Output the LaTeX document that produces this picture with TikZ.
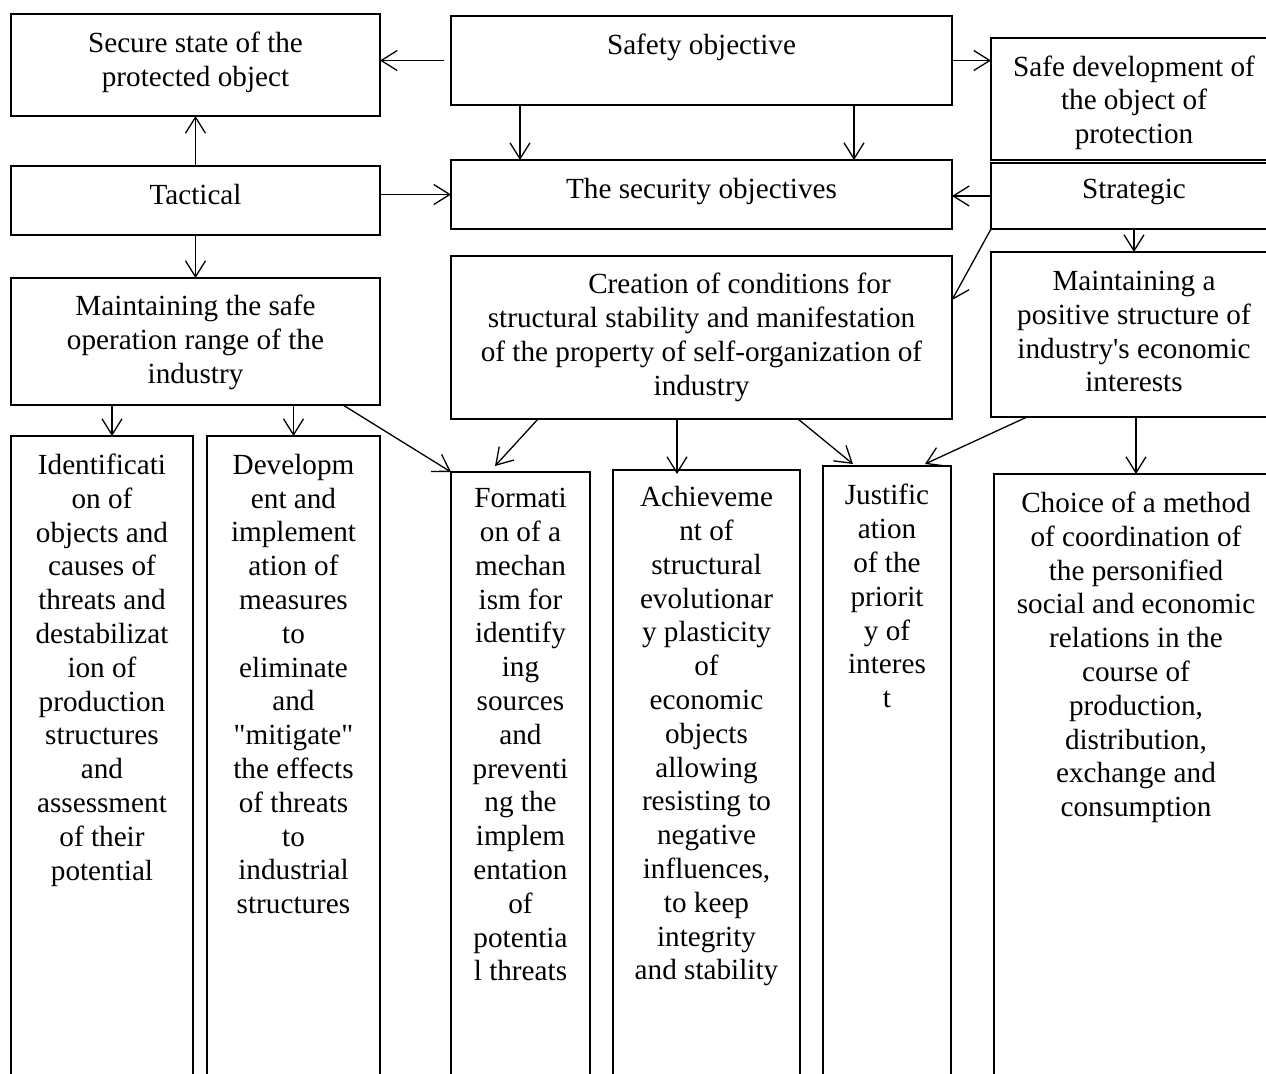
\documentclass[tikz,border=0pt]{standalone}
\usepackage{fontspec}
\setmainfont{Liberation Serif}
\usetikzlibrary{arrows.meta,calc}
\begin{document}
\begin{tikzpicture}[x=0.5pt,y=-0.5pt,
  box/.style={draw, line width=1.2pt, inner sep=0pt, outer sep=0pt},
  openbox/.style={inner sep=0pt, outer sep=0pt, minimum height=330pt, anchor=north},
  boxline/.style={line width=1.2pt},
  txt/.style={inner sep=0pt, outer sep=0pt, anchor=north, align=center,
    font=\fontsize{14.6pt}{16.9pt}\selectfont, execute at begin node=\strut},
  arr/.style={line width=0.65pt, -{Straight Barb[length=8pt,width=10pt,line width=0.65pt]}}]
\useasboundingbox (0,0) rectangle (1266,1073);

% framed boxes
\node[box, minimum width=184.5pt, minimum height=51pt]   (secure)    at (195.5,65) {};
\node[box, minimum width=250.5pt, minimum height=44.5pt] (safety)    at (701.5,60.5) {};
\node[box, minimum width=143pt,   minimum height=61pt]   (safedev)   at (1134,99) {};
\node[box, minimum width=184.5pt, minimum height=34.5pt] (tactical)  at (195.5,200.5) {};
\node[box, minimum width=250.5pt, minimum height=34.5pt] (security)  at (701.5,194.5) {};
\node[box, minimum width=143pt,   minimum height=33pt]   (strategic) at (1134,196) {};
\node[box, minimum width=184.5pt, minimum height=63.5pt] (msafe)     at (195.5,341.5) {};
\node[box, minimum width=250.5pt, minimum height=81.5pt] (creation)  at (701.5,337.5) {};
\node[box, minimum width=143pt,   minimum height=82.5pt] (mpos)      at (1134,334.5) {};

% open-bottom columns
\node[openbox, minimum width=91pt]   (ident)   at (102,436) {};
\node[openbox, minimum width=86.5pt] (devel)   at (293.5,436) {};
\node[openbox, minimum width=69.5pt] (form)    at (520.5,472) {};
\node[openbox, minimum width=93.5pt] (achieve) at (706.5,470) {};
\node[openbox, minimum width=64pt]   (justif)  at (887,466) {};
\node[openbox, minimum width=142pt]  (choice)  at (1136,474) {};
\foreach \n in {ident,devel,form,achieve,justif,choice}{
  \draw[boxline] (\n.south west) -- (\n.north west) -- (\n.north east) -- (\n.south east);
}

% texts
\node[txt] (secure-t)    at ([yshift=-9.2pt]secure.north)    {Secure state of the\\protected object};
\node[txt] (safety-t)    at ([yshift=-7.3pt]safety.north)    {Safety objective};
\node[txt] (safedev-t)   at ([yshift=-8.8pt]safedev.north)   {Safe development of\\the object of\\protection};
\node[txt] (tactical-t)  at ([yshift=-7.3pt]tactical.north)  {Tactical};
\node[txt] (security-t)  at ([yshift=-7.6pt]security.north)  {The security objectives};
\node[txt] (strategic-t) at ([yshift=-5.7pt]strategic.north) {Strategic};
\node[txt] (msafe-t)     at ([yshift=-8.6pt]msafe.north)     {Maintaining the safe\\operation range of the\\industry};
\node[txt] (creation-t)  at ([yshift=-8.6pt]creation.north)  {\hspace*{38pt}Creation of conditions for\\structural stability and manifestation\\of the property of self-organization of\\industry};
\node[txt] (mpos-t)      at ([yshift=-9.6pt]mpos.north)      {Maintaining a\\positive structure of\\industry\textquotesingle s economic\\interests};
\node[txt] (ident-t)     at ([yshift=-9.0pt]ident.north)     {Identificati\\on of\\objects and\\causes of\\threats and\\destabilizat\\ion of\\production\\structures\\and\\assessment\\of their\\potential};
\node[txt] (devel-t)     at ([yshift=-9.0pt]devel.north)     {Developm\\ent and\\implement\\ation of\\measures\\to\\eliminate\\and\\\textquotedbl mitigate\textquotedbl\\the effects\\of threats\\to\\industrial\\structures};
\node[txt] (form-t)      at ([yshift=-8.2pt]form.north)      {Formati\\on of a\\mechan\\ism for\\identify\\ing\\sources\\and\\preventi\\ng the\\implem\\entation\\of\\potentia\\l threats};
\node[txt] (achieve-t)   at ([yshift=-8.2pt]achieve.north)   {Achieveme\\nt of\\structural\\evolutionar\\y plasticity\\of\\economic\\objects\\allowing\\resisting to\\negative\\influences,\\to keep\\integrity\\and stability};
\node[txt] (justif-t)    at ([yshift=-9.2pt]justif.north)    {Justific\\ation\\of the\\priorit\\y of\\interes\\t};
\node[txt] (choice-t)    at ([yshift=-9.0pt]choice.north)    {Choice of a method\\of coordination of\\the personified\\social and economic\\relations in the\\course of\\production,\\distribution,\\exchange and\\consumption};

% connectors
\draw[arr] ([xshift=-3.5pt]safety.west) -- (safety.west -| secure.east);
\draw[arr] (safety.east) -- (safety.east -| safedev.west);
\draw[arr] ([xshift=34.5pt]safety.south west) -- ([xshift=34.5pt]security.north west);
\draw[arr] ([xshift=-49pt]safety.south east) -- ([xshift=-49pt]security.north east);
\draw[arr] (tactical.north) -- (secure.south);
\draw[arr] (tactical.east |- security.west) -- (security.west);
\draw[arr] (tactical.south) -- (msafe.north);
\draw[arr] (strategic.west) -- (strategic.west -| security.east);
\draw[arr] (strategic.south west) -- ([yshift=-22pt]creation.north east);
\draw[arr] (strategic.south) -- (mpos.north);
\coordinate (a1) at ([xshift=5pt]ident.north);
\draw[arr] (a1 |- msafe.south) -- (a1);
\draw[arr] (devel.north |- msafe.south) -- (devel.north);
\draw[arr] ([xshift=-18.5pt]msafe.south east) -- (form.north west);
\draw[arr] ([xshift=43.5pt]creation.south west) -- ([xshift=22pt,yshift=3pt]form.north west);
\coordinate (a2) at ([xshift=32pt,yshift=-2pt]achieve.north west);
\draw[arr] (a2 |- creation.south) -- (a2);
\draw[arr] ([xshift=-77pt]creation.south east) -- ([xshift=15pt,yshift=1pt]justif.north west);
\draw[arr] ([xshift=18pt]mpos.south west) -- ([xshift=-13pt,yshift=1pt]justif.north east);
\draw[arr] (mpos.south -| choice.north) -- (choice.north);
\end{tikzpicture}
\end{document}
